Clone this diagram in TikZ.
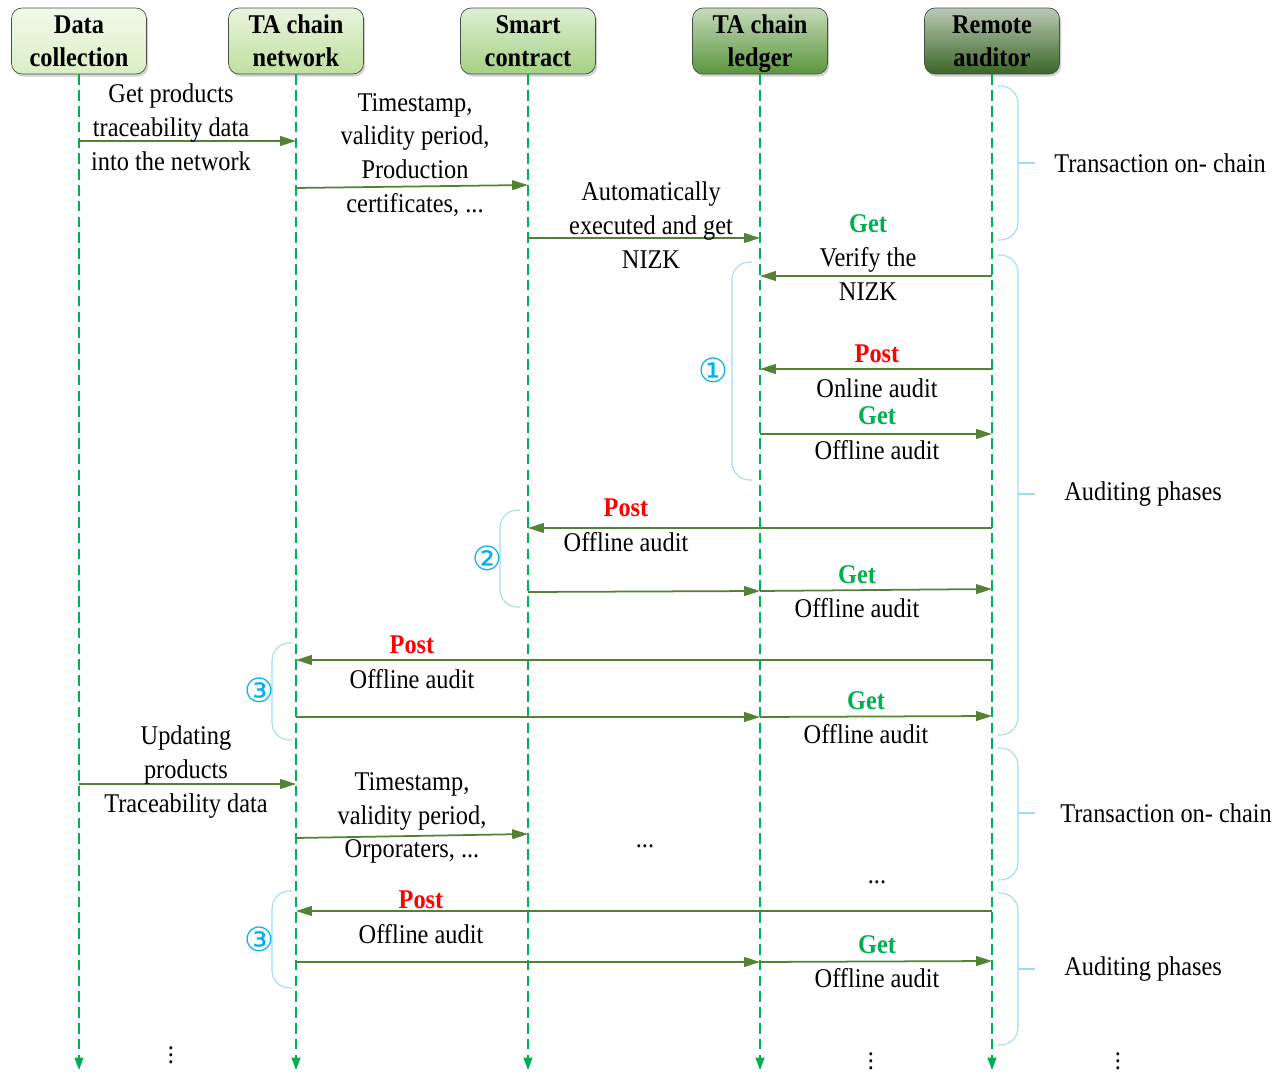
\documentclass[tikz,border=0pt]{standalone}
\usepackage{fontspec}
\setmainfont{Liberation Serif}[FakeStretch=0.9]
\newfontfamily\circfont{DejaVu Sans}
\usetikzlibrary{arrows.meta,shadows}
\definecolor{lifegreen}{HTML}{00B050}
\definecolor{msggreen}{HTML}{548235}
\definecolor{getgreen}{HTML}{00B050}
\definecolor{brkblue}{HTML}{9DDCF5}
\definecolor{numblue}{HTML}{00B0F0}
\definecolor{boxa}{HTML}{D9EEC4}
\definecolor{boxb}{HTML}{BFE09E}
\definecolor{boxc}{HTML}{A3D183}
\definecolor{boxd}{HTML}{5A963B}
\definecolor{boxe}{HTML}{3A6527}

\begin{document}
\begin{tikzpicture}[x=0.02cm, y=-0.02cm,
	head/.style={draw=gray!60!black, rounded corners=6pt, minimum width=2.7cm, minimum height=1.32cm, align=center, inner sep=0pt,
		top color=#1!35!white, bottom color=#1, font=\bfseries\fontsize{15.4}{18.7}\selectfont,
		drop shadow={opacity=.35, shadow xshift=1pt, shadow yshift=-1.5pt}},
	life/.style={draw=lifegreen, line width=.8pt, dash pattern=on 6pt off 3pt, -{Triangle[length=7pt,width=5pt]}},
	msg/.style={draw=msggreen, line width=1pt, -{Triangle[length=9pt,width=5.5pt]}},
	brk/.style={draw=brkblue, line width=.6pt, rounded corners=10pt},
	txt/.style={align=center, inner sep=0pt, font=\fontsize{15.4}{19.3}\selectfont},
	get/.style={txt, text=getgreen, font=\bfseries\fontsize{15.4}{19.3}\selectfont},
	post/.style={txt, text=red, font=\bfseries\fontsize{15.4}{19.3}\selectfont},
	num/.style={inner sep=0pt, text=numblue, font=\circfont\fontsize{19}{19}\selectfont}]
		\useasboundingbox (0,0) rectangle (1286,1074);
		\node [head=boxa] (dc) at (79,41) {Data\\collection};
		\node [head=boxb] (net) at (296,41) {TA chain\\network};
		\node [head=boxc] (sc) at (528,41) {Smart\\contract};
		\node [head=boxd] (led) at (760,41) {TA chain\\\raisebox{0pt}[\height][0pt]{ledger}};
		\node [head=boxe] (aud) at (992,41) {Remote\\auditor};
		\foreach \n in {dc,net,sc,led,aud}
			\draw [life] (\n.south) -- (\n |- 0,1070);
		% transaction on chain
		\draw [msg] (dc |- 0,141) -- (net |- 0,141);
		\node [txt] (m1) at (171,127) {Get products\\traceability data\\into the network};
		\draw [msg] (net |- 0,188) -- (sc |- 0,185);
		\node [txt] (m2) at (415,155) {Timestamp,\\validity period,\\Production\\certificates, ...};
		\draw [msg] (sc |- 0,238) -- (led |- 0,238);
		\node [txt] (m3) at (651,225) {Automatically\\executed and get\\NIZK};
		% auditing
		\draw [msg] (aud |- 0,276) -- (led |- 0,276);
		\node [get] (g1) at (868,224) {Get};
		\node [txt] (m4) at (868,274) {Verify the\\NIZK};
		\draw [msg] (aud |- 0,369) -- (led |- 0,369);
		\node [post] (p1) at (877,354) {Post};
		\node [txt] (m5) at (877,388) {Online audit};
		\draw [msg] (led |- 0,434) -- (aud |- 0,434);
		\node [get] (g2) at (877,416) {Get};
		\node [txt] (m6) at (877,450) {Offline audit};
		\draw [msg] (aud |- 0,528) -- (sc |- 0,528);
		\node [post] (p2) at (626,508) {Post};
		\node [txt] (m7) at (626,542) {Offline audit};
		\draw [msg] (sc |- 0,592) -- (led |- 0,591);
		\draw [msg] (led |- 0,591) -- (aud |- 0,589);
		\node [get] (g3) at (857,575) {Get};
		\node [txt] (m8) at (857,608) {Offline audit};
		\draw [msg] (aud |- 0,660) -- (net |- 0,660);
		\node [post] (p3) at (412,645) {Post};
		\node [txt] (m9) at (412,679) {Offline audit};
		\draw [msg] (net |- 0,717) -- (led |- 0,717);
		\draw [msg] (led |- 0,717) -- (aud |- 0,716);
		\node [get] (g4) at (866,701) {Get};
		\node [txt] (m10) at (866,734) {Offline audit};
		% second round
		\draw [msg] (dc |- 0,784) -- (net |- 0,784);
		\node [txt] (m11) at (186,772) {Updating\\products\\Traceability data};
		\draw [msg] (net |- 0,838) -- (sc |- 0,834);
		\node [txt] (m12) at (412,818) {Timestamp,\\validity period,\\Orporaters, ...};
		\node [txt] (d1) at (645,846) {...};
		\node [txt] (d2) at (877,882) {...};
		\draw [msg] (aud |- 0,911) -- (net |- 0,911);
		\node [post] (p4) at (421,900) {Post};
		\node [txt] (m13) at (421,934) {Offline audit};
		\draw [msg] (net |- 0,962) -- (led |- 0,962);
		\draw [msg] (led |- 0,962) -- (aud |- 0,961);
		\node [get] (g5) at (877,945) {Get};
		\node [txt] (m14) at (877,978) {Offline audit};
		\node [txt] (v1) at (171,1050) {$\vdots$};
		\node [txt] (v2) at (871,1056) {$\vdots$};
		\node [txt] (v3) at (1118,1056) {$\vdots$};
		% brackets on the left
		\draw [brk] (752,262) -| (732,371) |- (752,480);
		\node [num] (n1) at (713,370) {①};
		\draw [brk] (520,510) -| (500,558) |- (520,607);
		\node [num] (n2) at (487,558) {②};
		\draw [brk] (292,643) -| (272,691) |- (292,740);
		\node [num] (n3) at (259,690) {③};
		\draw [brk] (292,891) -| (272,940) |- (292,988);
		\node [num] (n4) at (259,939) {③};
		% brackets on the right
		\draw [brk] (998,86) -| (1018,163) |- (998,240);
		\draw [brk] (1018,163) -- (1035,163);
		\node [txt, anchor=west] (ph1) at (1054,163) {Transaction on- chain};
		\draw [brk] (998,255) -| (1018,494) |- (998,735);
		\draw [brk] (1018,494) -- (1035,494);
		\node [txt, anchor=west] (ph2) at (1064,494) {Auditing phases};
		\draw [brk] (998,748) -| (1018,813) |- (998,880);
		\draw [brk] (1018,813) -- (1035,813);
		\node [txt, anchor=west] (ph3) at (1060,813) {Transaction on- chain};
		\draw [brk] (998,893) -| (1018,969) |- (998,1045);
		\draw [brk] (1018,969) -- (1035,969);
		\node [txt, anchor=west] (ph4) at (1064,969) {Auditing phases};
	\end{tikzpicture}
\end{document}
